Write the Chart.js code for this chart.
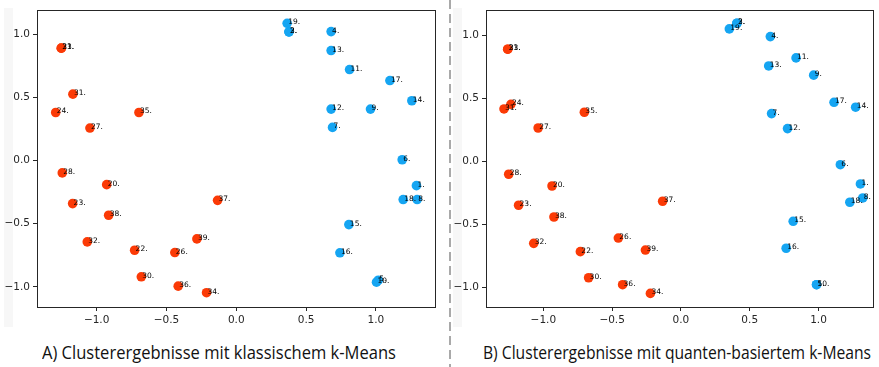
<!DOCTYPE html>
<html>
<head>
<meta charset="utf-8">
<script src="https://cdn.jsdelivr.net/npm/chart.js@4.4.1/dist/chart.umd.min.js"></script>
<style>
  html, body { margin: 0; padding: 0; background: #fff; }
  #wrap { position: relative; width: 879px; height: 367px; overflow: hidden; }
  .strip { position: absolute; background: #f7f7f7; }
  .box { position: absolute; top: 0; height: 330px; }
  #sep { position: absolute; left: 449px; top: 0; width: 2px; height: 367px;
         background: repeating-linear-gradient(to bottom, #a9a9a9 0 9px, transparent 9px 14px); }
  .caption { position: absolute; top: 339px; white-space: nowrap; color: #111;
             font-family: "Liberation Sans Narrow", "Open Sans", sans-serif; font-size: 19px;
             transform-origin: left center; }
</style>
</head>
<body>
<div id="wrap">
  <div class="strip" style="left:4px; top:8px; width:9px; height:319px;"></div>
  <div class="strip" style="left:453px; top:8px; width:9px; height:319px;"></div>
  <div class="box" style="left:0; width:445px;"><canvas id="chartA" width="445" height="330"></canvas></div>
  <div class="box" style="left:450px; width:429px;"><canvas id="chartB" width="429" height="330"></canvas></div>
  <div id="sep"></div>
  <div class="caption" id="capA">A) Clusterergebnisse mit klassischem k-Means</div>
  <div class="caption" id="capB">B) Clusterergebnisse mit quanten-basiertem k-Means</div>
</div>
<script>
// --- Daten: A) klassisches k-Means ---
const klassBlauNr = [1, 2, 3, 4, 5, 6, 7, 8, 9, 10, 11, 12, 13, 14, 15, 16, 17, 18, 19];
const klassBlauX  = [1.29, 0.377, 0.377, 0.679, 1.017, 1.188, 0.689, 1.295, 0.961, 1.004, 0.811, 0.679, 0.679, 1.257, 0.806, 0.742, 1.10, 1.195, 0.364];
const klassBlauY  = [-0.20, 1.017, 1.017, 1.019, -0.948, 0.005, 0.261, -0.31, 0.406, -0.964, 0.719, 0.406, 0.869, 0.472, -0.508, -0.731, 0.632, -0.31, 1.085];

const klassRotNr = [20, 21, 22, 23, 24, 26, 27, 28, 30, 31, 32, 33, 34, 35, 36, 37, 38, 39];
const klassRotX  = [-0.928, -1.253, -0.728, -1.172, -1.293, -0.44, -1.048, -1.246, -0.68, -1.17, -1.067, -1.253, -0.213, -0.697, -0.416, -0.134, -0.914, -0.282];
const klassRotY  = [-0.192, 0.888, -0.711, -0.342, 0.379, -0.729, 0.256, -0.099, -0.921, 0.524, -0.645, 0.888, -1.047, 0.379, -0.995, -0.316, -0.434, -0.621];

// --- Daten: B) quanten-basiertes k-Means ---
const quantBlauNr = [1, 2, 3, 4, 5, 6, 7, 8, 9, 10, 11, 12, 13, 14, 15, 16, 17, 18, 19];
const quantBlauX  = [1.305, 0.407, 0.407, 0.65, 0.986, 1.159, 0.659, 1.322, 0.965, 0.986, 0.837, 0.775, 0.638, 1.27, 0.816, 0.765, 1.113, 1.228, 0.352];
const quantBlauY  = [-0.18, 1.095, 1.095, 0.989, -0.979, -0.027, 0.378, -0.291, 0.683, -0.979, 0.82, 0.259, 0.756, 0.429, -0.476, -0.69, 0.468, -0.325, 1.05];

const quantRotNr = [20, 21, 22, 23, 24, 26, 27, 28, 30, 31, 32, 33, 34, 35, 36, 37, 38, 39];
const quantRotX  = [-0.937, -1.259, -0.731, -1.18, -1.236, -0.455, -1.038, -1.252, -0.671, -1.286, -1.07, -1.259, -0.222, -0.702, -0.424, -0.133, -0.923, -0.258];
const quantRotY  = [-0.196, 0.889, -0.717, -0.349, 0.452, -0.609, 0.264, -0.103, -0.924, 0.415, -0.651, 0.889, -1.048, 0.389, -0.979, -0.317, -0.442, -0.704];

// Achsenbeschriftung
const tickWerte  = [-1.0, -0.5, 0.0, 0.5, 1.0];
const tickLabels = ['\u22121.0', '\u22120.5', '0.0', '0.5', '1.0'];

const farbeBlau = '#15a5f2';
const farbeRot  = '#fb3a06';

function punkte(nr, xs, ys) {
    return nr.map((n, i) => ({ x: xs[i], y: ys[i], nr: n }));
}

// Rahmen um die Plotfläche (wie matplotlib-Spines)
const rahmenPlugin = {
    id: 'rahmen',
    afterDraw(chart) {
        const a = chart.chartArea;
        const ctx = chart.ctx;
        ctx.save();
        ctx.strokeStyle = '#262626';
        ctx.lineWidth = 1;
        ctx.strokeRect(Math.round(a.left) + 0.5, Math.round(a.top) + 0.5,
                       Math.round(a.right - a.left) - 1, Math.round(a.bottom - a.top));
        ctx.restore();
    }
};

// Punktnummern neben den Punkten
const nummernPlugin = {
    id: 'nummern',
    afterDatasetsDraw(chart) {
        const ctx = chart.ctx;
        ctx.save();
        ctx.font = '7.5px "DejaVu Sans"';
        ctx.fillStyle = '#000';
        ctx.textAlign = 'left';
        ctx.textBaseline = 'alphabetic';
        chart.data.datasets.forEach((ds, di) => {
            chart.getDatasetMeta(di).data.forEach((el, i) => {
                ctx.fillText(ds.data[i].nr + '.', el.x + 1, el.y + 1);
            });
        });
        ctx.restore();
    }
};

function achse(min, max, fixGroesse, horizontal) {
    return {
        type: 'linear',
        min: min,
        max: max,
        border: { display: false },
        grid: { drawOnChartArea: false, drawTicks: true, tickLength: 4, color: '#262626' },
        ticks: {
            color: '#262626',
            padding: 3,
            maxRotation: 0,
            font: { family: 'DejaVu Sans', size: 10.5 },
            callback: (v) => {
                const k = tickWerte.findIndex(t => Math.abs(t - v) < 1e-6);
                return k >= 0 ? tickLabels[k] : '';
            }
        },
        afterBuildTicks: (scale) => { scale.ticks = tickWerte.map(v => ({ value: v })); },
        afterFit: (scale) => {
            if (horizontal) scale.height = fixGroesse; else scale.width = fixGroesse;
        }
    };
}

function zeichneChart(id, blau, rot, xMin, xMax, yMin, yMax, yBreite, rechts) {
    const ctx = document.getElementById(id).getContext('2d');
    return new Chart(ctx, {
        type: 'scatter',
        data: {
            datasets: [
                { data: blau, backgroundColor: farbeBlau, borderWidth: 0, pointRadius: 4.8, pointHoverRadius: 4.8 },
                { data: rot,  backgroundColor: farbeRot,  borderWidth: 0, pointRadius: 4.8, pointHoverRadius: 4.8 }
            ]
        },
        options: {
            responsive: false,
            animation: false,
            events: [],
            layout: { padding: { top: 10, right: rechts, left: 0, bottom: 0 } },
            scales: {
                x: achse(xMin, xMax, 23, true),
                y: achse(yMin, yMax, yBreite, false)
            },
            plugins: {
                legend: { display: false },
                tooltip: { enabled: false }
            }
        },
        plugins: [rahmenPlugin, nummernPlugin]
    });
}

zeichneChart('chartA',
    punkte(klassBlauNr, klassBlauX, klassBlauY),
    punkte(klassRotNr, klassRotX, klassRotY),
    -1.427, 1.43, -1.16, 1.19, 37, 9);

zeichneChart('chartB',
    punkte(quantBlauNr, quantBlauX, quantBlauY),
    punkte(quantRotNr, quantRotX, quantRotY),
    -1.417, 1.405, -1.156, 1.2, 36, 1);

// Bildunterschriften auf Zielbreite stauchen (Calibri-ähnlich)
function passeAn(id, links, breite) {
    const el = document.getElementById(id);
    const w = el.offsetWidth;
    el.style.left = links + 'px';
    el.style.transform = 'scaleX(' + (breite / w) + ')';
}
passeAn('capA', 42, 354);
passeAn('capB', 483, 388);
</script>
</body>
</html>
